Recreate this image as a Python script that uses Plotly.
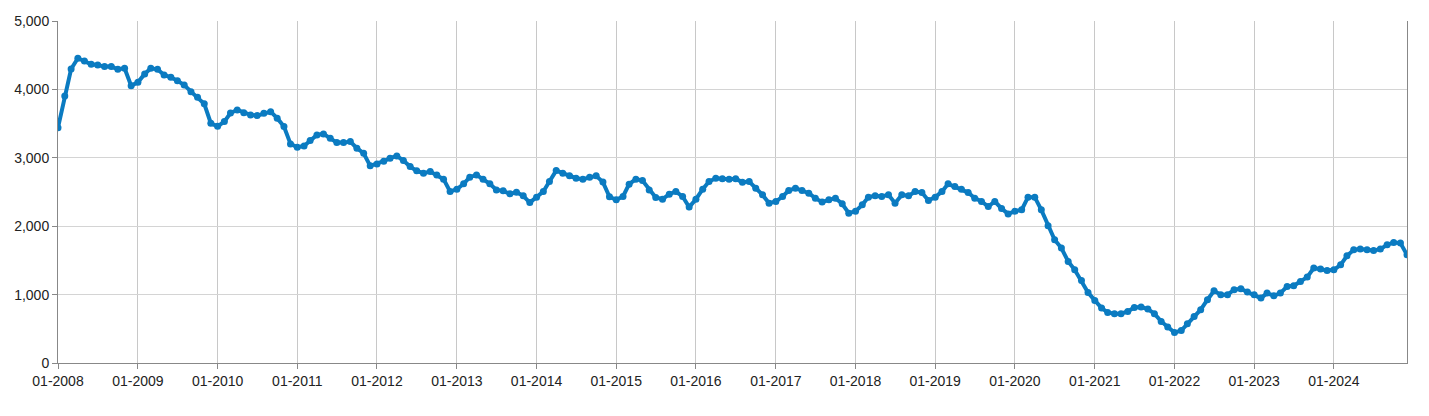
import plotly.graph_objects as go
import pandas as pd

start_month = "2008-01-01"
n_months = 204

values_2008 = [3441, 3904, 4299, 4455, 4416, 4367, 4357, 4333, 4333, 4294, 4309, 4055]
values_2009 = [4104, 4226, 4309, 4294, 4211, 4177, 4128, 4065, 3967, 3885, 3790, 3506]
values_2010 = [3460, 3529, 3655, 3700, 3660, 3627, 3617, 3652, 3675, 3579, 3456, 3203]
values_2011 = [3155, 3174, 3252, 3335, 3349, 3286, 3222, 3222, 3237, 3140, 3067, 2882]
values_2012 = [2911, 2950, 2994, 3028, 2959, 2872, 2809, 2775, 2799, 2750, 2688, 2507]
values_2013 = [2541, 2619, 2717, 2750, 2688, 2619, 2531, 2517, 2473, 2497, 2444, 2346]
values_2014 = [2425, 2507, 2653, 2813, 2775, 2736, 2702, 2688, 2717, 2736, 2645, 2430]
values_2015 = [2385, 2434, 2615, 2688, 2668, 2531, 2419, 2395, 2468, 2507, 2434, 2279]
values_2016 = [2395, 2541, 2653, 2702, 2692, 2688, 2692, 2644, 2653, 2556, 2458, 2337]
values_2017 = [2361, 2434, 2521, 2556, 2521, 2483, 2410, 2352, 2385, 2410, 2327, 2191]
values_2018 = [2220, 2312, 2425, 2444, 2434, 2458, 2337, 2458, 2444, 2507, 2492, 2375]
values_2019 = [2425, 2507, 2619, 2580, 2541, 2492, 2410, 2361, 2288, 2361, 2260, 2180]
values_2020 = [2220, 2239, 2425, 2425, 2239, 2005, 1801, 1680, 1484, 1363, 1207, 1031]
values_2021 = [915, 803, 739, 720, 720, 754, 812, 818, 789, 720, 608, 526]
values_2022 = [445, 475, 575, 681, 779, 925, 1056, 998, 998, 1071, 1085, 1037]
values_2023 = [998, 949, 1022, 983, 1022, 1119, 1129, 1192, 1256, 1388, 1373, 1353]
values_2024 = [1363, 1436, 1567, 1655, 1665, 1655, 1645, 1665, 1728, 1762, 1753, 1582]

values = (values_2008 + values_2009 + values_2010 + values_2011 + values_2012 +
          values_2013 + values_2014 + values_2015 + values_2016 + values_2017 +
          values_2018 + values_2019 + values_2020 + values_2021 + values_2022 +
          values_2023 + values_2024)
dates = pd.date_range(start_month, periods=n_months, freq="MS")

y_ticks = [0, 1000, 2000, 3000, 4000, 5000]

fig = go.Figure()
fig.add_trace(go.Scatter(
    x=dates, y=values, mode="lines+markers",
    line=dict(color="#0b7bc1", width=4),
    marker=dict(color="#0b7bc1", size=7),
    showlegend=False,
))

# the page body adds an 8px offset, so margins are shifted to compensate
fig.update_layout(
    width=1429, height=416,
    margin=dict(l=50, r=30, t=13, b=61, autoexpand=False),
    paper_bgcolor="white", plot_bgcolor="white",
    font=dict(family="Liberation Sans, Arial, sans-serif", size=14, color="#222222"),
)
fig.update_xaxes(
    type="date", range=[dates[0], dates[-1]],
    tickformat="%m-%Y", dtick="M12", tick0=start_month,
    showgrid=True, gridcolor="#c8c8c8", gridwidth=1,
    showline=True, linecolor="#888888", linewidth=1,
    ticks="outside", ticklen=5, tickcolor="#888888",
    zeroline=False, automargin=False,
)
fig.update_yaxes(
    range=[0, 5000], tickvals=y_ticks, tickformat=",d",
    showgrid=True, gridcolor="#d4d4d4", gridwidth=1,
    showline=True, linecolor="#888888", linewidth=1, mirror=True,
    ticks="outside", ticklen=5, tickcolor="#888888",
    zeroline=False, automargin=False,
)

fig.write_html("out.html")
